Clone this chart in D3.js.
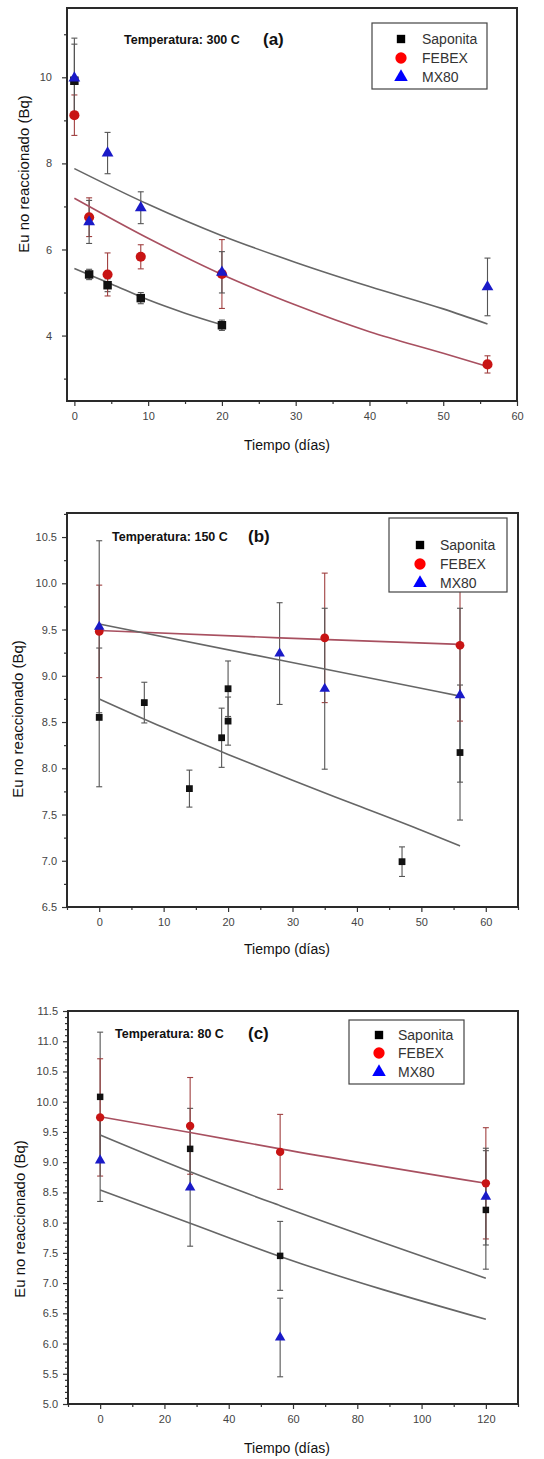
<!DOCTYPE html>
<html>
<head>
<meta charset="utf-8">
<script src="https://cdn.jsdelivr.net/npm/d3@7"></script>
<style>
  body { margin: 0; background: #fff; }
  svg { display: block; font-family: "Liberation Sans", Arial, sans-serif; }
</style>
</head>
<body>
<svg id="chart" width="544" height="1459"></svg>
<script>
// ---- Panel (a): 300 C ----
const aSapX = [0, 2, 4.5, 9, 20];
const aSapY = [9.92, 5.42, 5.17, 4.87, 4.24];
const aSapE = [0.85, 0.12, 0.15, 0.13, 0.12];
const aFebX = [0, 2, 4.5, 9, 20, 56];
const aFebY = [9.12, 6.75, 5.42, 5.83, 5.43, 3.33];
const aFebE = [0.47, 0.45, 0.5, 0.28, 0.8, 0.2];
const aMxX = [0, 2, 4.5, 9, 20, 56];
const aMxY = [9.98, 6.64, 8.24, 6.97, 5.47, 5.13];
const aMxE = [0.93, 0.5, 0.48, 0.37, 0.48, 0.67];
const aFitSapX = [0, 5, 10, 15, 20];
const aFitSapY = [5.56, 5.2, 4.83, 4.52, 4.25];
const aFitX = [0, 10, 20, 30, 40, 50, 56];
const aFitFebY = [7.19, 6.26, 5.42, 4.71, 4.09, 3.59, 3.28];
const aFitMxY = [7.88, 7.05, 6.32, 5.7, 5.14, 4.62, 4.27];
const aXTicks = [0, 10, 20, 30, 40, 50, 60];
const aYTicks = [4, 6, 8, 10];

// ---- Panel (b): 150 C ----
const bSapX = [0, 7, 14, 19, 20, 20, 47, 56];
const bSapY = [8.55, 8.71, 7.78, 8.33, 8.86, 8.51, 6.99, 8.17];
const bSapE = [0.75, 0.22, 0.2, 0.32, 0.3, 0.26, 0.16, 0.73];
const bFebX = [0, 35, 56];
const bFebY = [9.48, 9.41, 9.33];
const bFebE = [0.5, 0.7, 0.82];
const bMxX = [0, 28, 35, 56];
const bMxY = [9.53, 9.24, 8.86, 8.79];
const bMxE = [0.93, 0.55, 0.87, 0.94];
const bFitSapX = [0, 10, 20, 30, 40, 50, 56];
const bFitSapY = [8.75, 8.44, 8.15, 7.87, 7.6, 7.33, 7.16];
const bFitX = [0, 28, 56];
const bFitFebY = [9.49, 9.41, 9.34];
const bFitMxY = [9.56, 9.17, 8.78];
const bXTicks = [0, 10, 20, 30, 40, 50, 60];
const bYTicks = [6.5, 7.0, 7.5, 8.0, 8.5, 9.0, 9.5, 10.0, 10.5];

// ---- Panel (c): 80 C ----
const cX = [0, 28, 56, 120];
const cSapY = [10.08, 9.22, 7.45, 8.21];
const cSapE = [1.07, 0.67, 0.57, 0.98];
const cFebY = [9.74, 9.6, 9.17, 8.65];
const cFebE = [0.97, 0.8, 0.62, 0.92];
const cMxY = [9.03, 8.58, 6.1, 8.43];
const cMxE = [0.68, 0.97, 0.65, 0.8];
const cFitX = [0, 28, 56, 120];
const cFitSapY = [8.54, 7.99, 7.44, 6.4];
const cFitFebY = [9.75, 9.49, 9.22, 8.65];
const cFitMxY = [9.45, 8.84, 8.28, 7.08];
const cXTicks = [0, 20, 40, 60, 80, 100, 120];
const cYTicks = [5.0, 5.5, 6.0, 6.5, 7.0, 7.5, 8.0, 8.5, 9.0, 9.5, 10.0, 10.5, 11.0, 11.5];

const seriesNames = ["Saponita", "FEBEX", "MX80"];
const legendColors = ["#000000", "#ff0000", "#0000ff"];
const markColors = ["#111111", "#c81414", "#1a1ac8"];
const barColors = ["#555555", "#a04040", "#555555"];
const fitColors = ["#666666", "#a85060", "#666666"];

const svg = d3.select("#chart");

function zipPts(xs, ys, es) {
  return xs.map((x, i) => ({x: x, y: ys[i], e: es ? es[i] : 0}));
}

function drawPanel(p) {
  const x = d3.scaleLinear().domain(p.xDomain).range([p.left, p.right]);
  const y = d3.scaleLinear().domain(p.yDomain).range([p.bottom, p.top]);
  const g = svg.append("g");

  // axes (major + minor ticks)
  g.append("g").attr("transform", `translate(0,${p.bottom})`)
    .call(d3.axisBottom(x).tickValues(p.xTicks).tickSize(5).tickPadding(6).tickFormat(d3.format("d")));
  g.append("g").attr("transform", `translate(0,${p.bottom})`)
    .call(d3.axisBottom(x).tickValues(p.xMinor).tickSize(3).tickFormat(""));
  g.append("g").attr("transform", `translate(${p.left},0)`)
    .call(d3.axisLeft(y).tickValues(p.yTicks).tickSize(5).tickPadding(p.yPad).tickFormat(p.yFormat));
  g.append("g").attr("transform", `translate(${p.left},0)`)
    .call(d3.axisLeft(y).tickValues(p.yMinor).tickSize(3).tickFormat(""));
  g.selectAll(".domain").remove();
  g.selectAll(".tick line").attr("stroke", "#333").attr("stroke-width", 1.2);
  g.selectAll(".tick text").attr("fill", "#444").style("font-size", "11px");

  // frame
  g.append("rect")
    .attr("x", p.left).attr("y", p.top)
    .attr("width", p.right - p.left).attr("height", p.bottom - p.top)
    .attr("fill", "none").attr("stroke", "#2a2a2a").attr("stroke-width", 2);

  // error bars
  p.series.forEach((s, k) => {
    const eb = g.append("g").attr("stroke", barColors[k]).attr("stroke-width", 1.1);
    s.pts.forEach(d => {
      eb.append("line").attr("x1", x(d.x)).attr("x2", x(d.x))
        .attr("y1", y(d.y - d.e)).attr("y2", y(d.y + d.e));
      [d.y - d.e, d.y + d.e].forEach(v => {
        eb.append("line").attr("x1", x(d.x) - 3).attr("x2", x(d.x) + 3)
          .attr("y1", y(v)).attr("y2", y(v));
      });
    });
  });

  // fit lines
  const line = d3.line().x(d => x(d.x)).y(d => y(d.y)).curve(d3.curveMonotoneX);
  p.series.forEach((s, k) => {
    g.append("path").datum(s.fit).attr("d", line)
      .attr("fill", "none").attr("stroke", fitColors[k]).attr("stroke-width", 1.6);
  });

  // markers
  const shapes = [d3.symbolSquare, d3.symbolCircle, d3.symbolTriangle];
  p.series.forEach((s, k) => {
    g.selectAll(null).data(s.pts).enter().append("path")
      .attr("d", d3.symbol().type(shapes[k]).size(p.markSize[k]))
      .attr("transform", d => `translate(${x(d.x)},${y(d.y)})`)
      .attr("fill", markColors[k]);
  });

  // legend
  const L = p.legend;
  g.append("rect").attr("x", L.x0).attr("y", L.y0)
    .attr("width", L.x1 - L.x0).attr("height", L.y1 - L.y0)
    .attr("fill", "#fff").attr("stroke", "#444").attr("stroke-width", 1.2);
  const legSizes = [70, 100, 80];
  seriesNames.forEach((name, k) => {
    g.append("path")
      .attr("d", d3.symbol().type(shapes[k]).size(legSizes[k]))
      .attr("transform", `translate(${L.sx},${L.ys[k]})`)
      .attr("fill", legendColors[k]);
    g.append("text").attr("x", L.tx).attr("y", L.ys[k] + 5)
      .attr("fill", "#333").style("font-size", "14px").text(name);
  });

  // title
  g.append("text").attr("x", p.titleX).attr("y", p.titleY)
    .attr("font-weight", "bold").style("font-size", "12.5px").attr("fill", "#111")
    .text(p.title);
  g.append("text").attr("x", p.tagX).attr("y", p.titleY + 1)
    .attr("font-weight", "bold").style("font-size", "17px").attr("fill", "#111")
    .text(p.tag);

  // axis labels
  g.append("text").attr("x", 287).attr("y", p.xLabelY)
    .attr("text-anchor", "middle").attr("fill", "#111")
    .style("font-size", "14px").text("Tiempo (días)");
  g.append("text")
    .attr("transform", `translate(${p.yLabelX},${p.yLabelY}) rotate(-90)`)
    .attr("text-anchor", "middle").attr("fill", "#111")
    .style("font-size", "15px").text("Eu no reaccionado (Bq)");
}

function range(a, b, step) {
  const out = [];
  for (let v = a; v <= b + 1e-9; v += step) out.push(+v.toFixed(3));
  return out;
}

drawPanel({
  left: 67, right: 517, top: 8, bottom: 401,
  xDomain: [-1, 60], yDomain: [2.48, 11.61],
  xTicks: aXTicks, xMinor: [5, 15, 25, 35, 45, 55],
  yTicks: aYTicks, yMinor: [3, 5, 7, 9, 11], yFormat: d3.format("d"), yPad: 10,
  series: [
    {pts: zipPts(aSapX, aSapY, aSapE), fit: zipPts(aFitSapX, aFitSapY)},
    {pts: zipPts(aFebX, aFebY, aFebE), fit: zipPts(aFitX, aFitFebY)},
    {pts: zipPts(aMxX, aMxY, aMxE), fit: zipPts(aFitX, aFitMxY)}
  ],
  markSize: [72, 80, 60],
  legend: {x0: 372, x1: 487, y0: 23, y1: 89, sx: 401, tx: 422, ys: [39, 58, 77]},
  title: "Temperatura: 300 C", tag: "(a)", titleX: 124, titleY: 44, tagX: 263,
  xLabelY: 450, yLabelX: 29, yLabelY: 174
});

drawPanel({
  left: 67, right: 518, top: 513, bottom: 907,
  xDomain: [-5, 65], yDomain: [6.5, 10.76],
  xTicks: bXTicks, xMinor: [-5, 5, 15, 25, 35, 45, 55, 65],
  yTicks: bYTicks, yMinor: range(6.75, 10.75, 0.5), yFormat: d3.format(".1f"), yPad: 5,
  series: [
    {pts: zipPts(bSapX, bSapY, bSapE), fit: zipPts(bFitSapX, bFitSapY)},
    {pts: zipPts(bFebX, bFebY, bFebE), fit: zipPts(bFitX, bFitFebY)},
    {pts: zipPts(bMxX, bMxY, bMxE), fit: zipPts(bFitX, bFitMxY)}
  ],
  markSize: [46, 60, 48],
  legend: {x0: 389, x1: 507, y0: 518, y1: 592, sx: 420, tx: 440, ys: [545, 564, 583]},
  title: "Temperatura: 150 C", tag: "(b)", titleX: 112, titleY: 541, tagX: 248,
  xLabelY: 954, yLabelX: 23, yLabelY: 719
});

drawPanel({
  left: 68, right: 518, top: 1011, bottom: 1404,
  xDomain: [-10, 130], yDomain: [5, 11.5],
  xTicks: cXTicks, xMinor: [-10, 10, 30, 50, 70, 90, 110, 130],
  yTicks: cYTicks, yMinor: range(5.1, 11.4, 0.1).filter(v => Math.abs(v * 2 - Math.round(v * 2)) > 1e-6),
  yFormat: d3.format(".1f"), yPad: 5,
  series: [
    {pts: zipPts(cX, cSapY, cSapE), fit: zipPts(cFitX, cFitSapY)},
    {pts: zipPts(cX, cFebY, cFebE), fit: zipPts(cFitX, cFitFebY)},
    {pts: zipPts(cX, cMxY, cMxE), fit: zipPts(cFitX, cFitMxY)}
  ],
  markSize: [42, 55, 48],
  legend: {x0: 349, x1: 464, y0: 1020, y1: 1084, sx: 379, tx: 398, ys: [1035, 1053, 1072]},
  title: "Temperatura: 80 C", tag: "(c)", titleX: 115, titleY: 1038, tagX: 248,
  xLabelY: 1453, yLabelX: 25, yLabelY: 1219
});
</script>
</body>
</html>
